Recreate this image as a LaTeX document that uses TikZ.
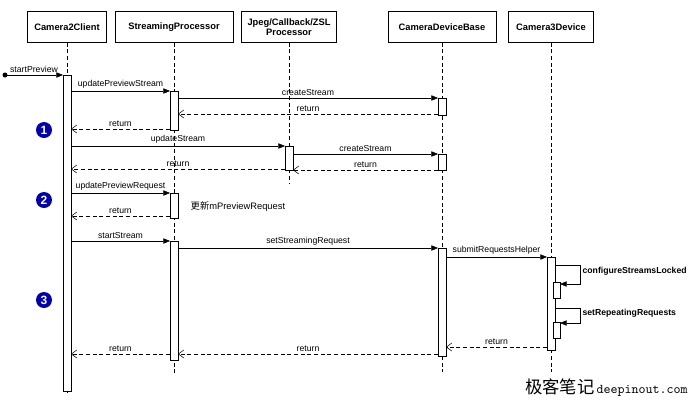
\documentclass[tikz,border=0pt]{standalone}
\usepackage{fontspec}
\setmainfont{Liberation Sans}
\newfontfamily\cjk{Noto Sans CJK SC}
\usetikzlibrary{arrows.meta}
\tikzset{%
    obj/.style={draw,fill=white,minimum height=23.25pt,align=center,font=\fontsize{7}{8}\selectfont\bfseries},
    life/.style={densely dashed,thin},
    act/.style={draw,fill=white,thin},
    msg/.style={-{Triangle[length=5pt,width=4pt]},thin},
    ret/.style={densely dashed,thin,-{Straight Barb[length=4pt,width=6pt]}},
    lbl/.style={above,inner sep=1.5pt,font=\fontsize{6.5}{7}\selectfont},
    num/.style={circle,fill=blue!70!black,text=white,inner sep=0pt,minimum size=12pt,font=\fontsize{9}{9}\selectfont\bfseries}
}
\begin{document}
\begin{tikzpicture}[x=0.75pt,y=-0.75pt]
        \useasboundingbox (0,0) rectangle (690,401);
        % objects
        \node[obj,minimum width=59.25pt] (cc) at (67,27) {Camera2Client};
        \node[obj,minimum width=88.5pt] (sp) at (174,27) {StreamingProcessor};
        \node[obj,minimum width=71.25pt] (jp) at (289,27) {Jpeg/Callback/ZSL\\Processor};
        \node[obj,minimum width=81pt] (db) at (442,27) {CameraDeviceBase};
        \node[obj,minimum width=63.75pt] (cd) at (551,27) {Camera3Device};
        % lifelines
        \draw[life] (cc.south) -- (67,396);
        \draw[life] (sp.south) -- (174,374);
        \draw[life] (jp.south) -- (289,184);
        \draw[life] (db.south) -- (442,372);
        \draw[life] (cd.south) -- (551,372);
        % activations
        \draw[act] (63,75) rectangle (71,391);
        \draw[act] (170,91) rectangle (178,130);
        \draw[act] (170,193) rectangle (178,218);
        \draw[act] (170,241) rectangle (178,360);
        \draw[act] (285,146) rectangle (293,170);
        \draw[act] (438,98) rectangle (446,115);
        \draw[act] (438,154) rectangle (446,170);
        \draw[act] (438,248) rectangle (446,356);
        \draw[act] (547,257) rectangle (555,350);
        \draw[act] (553,282) rectangle (560,298);
        \draw[act] (553,322) rectangle (560,338);
        % messages
        \fill (5,75) circle (2.5);
        \coordinate (s0) at (5,75);
        \coordinate (s1) at (63,75);
        \draw[msg] (s0) -- node[lbl] {startPreview} (s1);
        \draw[msg] (71,91) -- node[lbl] {updatePreviewStream} (170,91);
        \draw[msg] (178,98) -- node[lbl] {createStream} (438,98);
        \draw[ret] (438,114) -- node[lbl] {return} (178,114);
        \draw[ret] (170,129) -- node[lbl] {return} (71,129);
        \draw[msg] (71,146) -- node[lbl] {updateStream} (285,146);
        \draw[msg] (293,154) -- node[lbl] {createStream} (438,154);
        \draw[ret] (438,170) -- node[lbl] {return} (293,170);
        \draw[ret] (285,169) -- node[lbl] {return} (71,169);
        \draw[msg] (71,193) -- node[lbl] {updatePreviewRequest} (170,193);
        \draw[ret] (170,216) -- node[lbl] {return} (71,216);
        \node[right,font=\fontsize{7}{8}\selectfont] (upd) at (186,207) {{\cjk 更新}mPreviewRequest};
        \draw[msg] (71,241) -- node[lbl] {startStream} (170,241);
        \draw[msg] (178,248) -- node[lbl] {setStreamingRequest} (438,248);
        \draw[msg] (446,257) -- node[lbl] {submitRequestsHelper} (547,257);
        \draw[msg] (555,265) -- (580,265) -- (580,284) -- (560,284);
        \node[right,font=\fontsize{6.5}{7}\selectfont\bfseries,inner sep=1pt] (csl) at (581,271) {configureStreamsLocked};
        \draw[msg] (555,308) -- (580,308) -- (580,323) -- (560,323);
        \node[right,font=\fontsize{6.5}{7}\selectfont\bfseries,inner sep=1pt] (srr) at (581,313) {setRepeatingRequests};
        \draw[ret] (547,347) -- node[lbl] {return} (446,347);
        \draw[ret] (438,354) -- node[lbl] {return} (178,354);
        \draw[ret] (170,354) -- node[lbl] {return} (71,354);
        % step numbers
        \node[num] (n1) at (44,130) {1};
        \node[num] (n2) at (44,200) {2};
        \node[num] (n3) at (44,300) {3};
        % watermark
        \node[left,inner sep=0pt] (wm) at (688,388) {{\cjk\fontsize{13}{13}\selectfont 极客笔记}\,{\ttfamily\fontsize{10}{10}\selectfont deepinout.com}};
\end{tikzpicture}
\end{document}
